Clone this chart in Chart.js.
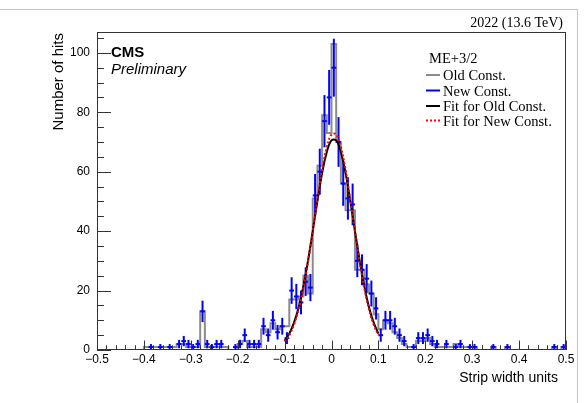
<!DOCTYPE html>
<html>
<head>
<meta charset="utf-8">
<script src="https://cdn.jsdelivr.net/npm/chart.js@4.4.1/dist/chart.umd.min.js"></script>
<style>
  html, body { margin: 0; padding: 0; background: #fff; }
  #wrap { position: relative; width: 585px; height: 403px; }
</style>
</head>
<body>
<div id="wrap"><canvas id="c"></canvas></div>
<script>
// 100 bins of 0.01 from -0.5 to 0.5
const binLow = -0.5
const binWidth = 0.01

// Old Const. (grey histogram), one count per bin
const oldConst = [
    0, 0, 0, 0, 0, 0, 0, 0, 0, 0,
    1, 1, 1, 1, 1, 1, 1, 2, 2, 1,
    1, 1, 13, 1, 1, 1, 1, 1, 0, 0,
    2, 3, 1, 1, 1, 7, 6, 9, 7, 8,
    8, 17, 17, 18, 25, 19, 51, 62, 79, 73,
    103, 70, 56, 47, 47, 27, 27, 22, 19, 12,
    7, 10, 9, 6, 4, 2, 1, 1, 3, 3,
    4, 2, 1, 1, 1, 1, 2, 1, 1, 1,
    1, 0, 0, 0, 1, 0, 0, 1, 0, 0,
    0, 0, 0, 0, 0, 0, 0, 1, 0, 1
]

// New Const. (blue points with errors)
const newConst = [
    0, 0, 0, 0, 0, 0, 0, 0, 0, 0,
    0, 1, 0, 1, 0, 1, 0, 2, 3, 2,
    1, 2, 13, 2, 1, 2, 2, 0, 0, 1,
    2, 5, 2, 2, 2, 8, 5, 10, 6, 8,
    4, 20, 18, 16, 23, 21, 52, 60, 77, 85,
    95, 70, 56, 51, 49, 30, 27, 24, 19, 14,
    5, 10, 10, 8, 5, 3, 0, 1, 4, 4,
    5, 3, 2, 0, 2, 0, 1, 2, 0, 1,
    1, 0, 0, 0, 1, 0, 0, 1, 0, 0,
    0, 0, 0, 0, 0, 0, 0, 1, 0, 1
]

const fitX = [-0.10, -0.09, -0.08, -0.07, -0.06, -0.05, -0.04, -0.03, -0.02, -0.01, 0.00,
    0.01, 0.02, 0.03, 0.04, 0.05, 0.06, 0.07, 0.08, 0.09, 0.10]
const fitOld = [3.1, 5.5, 9.2, 14.4, 21.4, 30.1, 40.0, 50.2, 59.5, 66.6, 70.5,
    70.5, 66.6, 59.5, 50.2, 40.0, 30.1, 21.4, 14.4, 9.2, 5.5]
const fitNew = [2.8, 5.0, 8.5, 13.7, 20.8, 29.7, 40.0, 50.7, 60.6, 68.3, 72.5,
    72.5, 68.3, 60.6, 50.7, 40.0, 29.7, 20.8, 13.7, 8.5, 5.0]

const xTicks = [-0.5, -0.4, -0.3, -0.2, -0.1, 0, 0.1, 0.2, 0.3, 0.4, 0.5]
const yTicks = [0, 20, 40, 60, 80, 100]

const legendEntries = [
    { label: 'Old Const.', color: '#8c8c8c', dash: [] },
    { label: 'New Const.', color: '#0000ff', dash: [] },
    { label: 'Fit for Old Const.', color: '#000000', dash: [] },
    { label: 'Fit for New Const.', color: '#ff0000', dash: [2, 2] },
]

const SANS = '"Liberation Sans", Arial, Helvetica, sans-serif'
const SERIF = '"Liberation Serif", "Times New Roman", serif'

// histogram outline: left edge of every bin plus the closing edge
var histData = oldConst.map((v, i) => ({ x: binLow + binWidth * i, y: v }))
histData.push({ x: binLow + binWidth * oldConst.length, y: oldConst[oldConst.length - 1] })

// points only for filled bins, like ROOT's "E"
var pointData = []
newConst.forEach((v, i) => {
    if (v > 0) pointData.push({ x: binLow + binWidth * (i + 0.5), y: v })
})

var fitOldData = fitX.map((x, i) => ({ x: x, y: fitOld[i] }))
var fitNewData = fitX.map((x, i) => ({ x: x, y: fitNew[i] }))

function fmtX(v) {
    if (Math.abs(v) < 1e-9) return '0'
    return (v < 0 ? '\u2212' : '') + Math.abs(v).toFixed(1)
}

const rootStyle = {
    id: 'rootStyle',
    afterDatasetDraw(chart, args) {
        // vertical error bars right after the blue points
        if (args.index !== 2) return
        var ctx = chart.ctx
        var y = chart.scales.y
        var area = chart.chartArea
        ctx.save()
        ctx.beginPath()
        ctx.rect(area.left, area.top, area.right - area.left, area.bottom - area.top)
        ctx.clip()
        ctx.strokeStyle = '#0000ff'
        ctx.lineWidth = 2
        args.meta.data.forEach((pt, i) => {
            var v = pointData[i].y
            var e = Math.sqrt(v)
            ctx.beginPath()
            ctx.moveTo(pt.x, y.getPixelForValue(v + e))
            ctx.lineTo(pt.x, y.getPixelForValue(Math.max(0, v - e)))
            ctx.stroke()
        })
        ctx.restore()
    },
    afterDraw(chart) {
        var ctx = chart.ctx
        var a = chart.chartArea
        var xs = chart.scales.x
        var ys = chart.scales.y
        ctx.save()

        // pad border
        ctx.strokeStyle = '#c4c4c4'
        ctx.lineWidth = 1
        ctx.beginPath()
        ctx.moveTo(0, 9.5)
        ctx.lineTo(577.5, 9.5)
        ctx.lineTo(577.5, 403)
        ctx.stroke()

        // frame
        ctx.strokeStyle = '#333'
        ctx.lineWidth = 1
        ctx.strokeRect(a.left + 0.5, a.top + 0.5, a.right - a.left - 1, a.bottom - a.top - 1)

        // ticks inside the frame
        ctx.beginPath()
        for (var t = -50; t <= 50; t += 2) {
            var px = Math.round(xs.getPixelForValue(t / 100)) + 0.5
            var len = (t % 10 === 0) ? 9.5 : 4.75
            ctx.moveTo(px, a.bottom)
            ctx.lineTo(px, a.bottom - len)
        }
        for (var v = 0; v <= 105; v += 5) {
            var py = Math.round(ys.getPixelForValue(v)) + 0.5
            var ylen = (v % 20 === 0) ? 14 : 7
            ctx.moveTo(a.left, py)
            ctx.lineTo(a.left + ylen, py)
        }
        ctx.stroke()

        ctx.fillStyle = '#000'
        ctx.textBaseline = 'alphabetic'

        // energy label
        ctx.font = '14px ' + SERIF
        ctx.textAlign = 'right'
        ctx.fillText('2022 (13.6 TeV)', 563, 27)

        // CMS label
        ctx.textAlign = 'left'
        ctx.font = 'bold 15px ' + SANS
        ctx.fillText('CMS', 111, 57)
        ctx.font = 'italic 15px ' + SANS
        ctx.fillText('Preliminary', 111, 74)

        // legend
        ctx.font = '14.5px ' + SERIF
        ctx.fillText('ME+3/2', 429, 63)
        var base = [80, 95.5, 111, 125.5]
        legendEntries.forEach((e, i) => {
            ctx.fillStyle = '#000'
            ctx.fillText(e.label, 443, base[i])
            ctx.strokeStyle = e.color
            ctx.lineWidth = 2
            ctx.setLineDash(e.dash)
            ctx.beginPath()
            ctx.moveTo(426, base[i] - 5)
            ctx.lineTo(440, base[i] - 5)
            ctx.stroke()
        })
        ctx.setLineDash([])

        // axis titles, right aligned like ROOT
        ctx.fillStyle = '#000'
        ctx.font = '14px ' + SANS
        ctx.textAlign = 'right'
        ctx.fillText('Strip width units', 558, 382)
        ctx.save()
        ctx.font = '15px ' + SANS
        ctx.translate(63, 33)
        ctx.rotate(-Math.PI / 2)
        ctx.fillText('Number of hits', 0, 0)
        ctx.restore()

        ctx.restore()
    }
}

var ctx = document.getElementById('c')
var chart = new Chart(ctx, {
    type: 'line',
    data: {
        datasets: [
            {
                label: 'Fit for New Const.',
                data: fitNewData,
                borderColor: '#ff0000',
                borderWidth: 2,
                borderDash: [2, 2],
                pointRadius: 0,
                tension: 0.4,
                fill: false,
            },
            {
                label: 'Fit for Old Const.',
                data: fitOldData,
                borderColor: '#000000',
                borderWidth: 2,
                pointRadius: 0,
                tension: 0.4,
                fill: false,
            },
            {
                label: 'New Const.',
                data: pointData,
                showLine: false,
                pointStyle: 'line',
                pointRadius: 2.35,
                pointBorderWidth: 2,
                pointBorderColor: '#0000ff',
                pointBackgroundColor: '#0000ff',
            },
            {
                label: 'Old Const.',
                data: histData,
                stepped: true,
                borderColor: '#8c8c8c',
                borderWidth: 2,
                pointRadius: 0,
                fill: false,
            },
        ]
    },
    plugins: [rootStyle],
    options: {
        responsive: true,
        maintainAspectRatio: false,
        animation: false,
        devicePixelRatio: 1,
        layout: { padding: { left: 0, right: 19, top: 32, bottom: 0 } },
        plugins: {
            legend: { display: false },
            tooltip: { enabled: false },
        },
        scales: {
            x: {
                type: 'linear',
                min: -0.5,
                max: 0.5,
                grid: { display: false, drawTicks: false },
                border: { display: false },
                afterBuildTicks: s => { s.ticks = xTicks.map(v => ({ value: v })) },
                afterFit: s => { s.height = 53 },
                ticks: {
                    maxRotation: 0,
                    autoSkip: false,
                    padding: 2,
                    color: '#000',
                    font: { family: SANS, size: 12 },
                    callback: v => fmtX(v),
                }
            },
            y: {
                min: 0,
                max: 107,
                grid: { display: false, drawTicks: false },
                border: { display: false },
                afterBuildTicks: s => { s.ticks = yTicks.map(v => ({ value: v })) },
                afterFit: s => { s.width = 97 },
                ticks: {
                    padding: 7,
                    color: '#000',
                    font: { family: SANS, size: 12 },
                }
            }
        }
    }
});
</script>
</body>
</html>
